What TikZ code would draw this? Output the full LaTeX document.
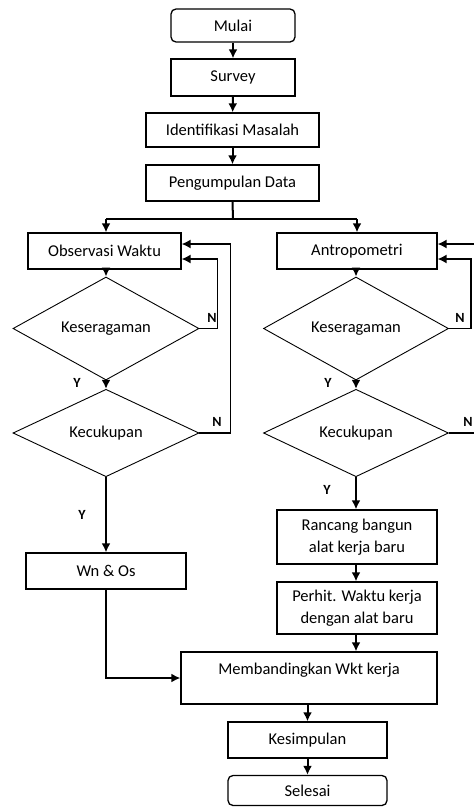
\documentclass[tikz,border=0pt]{standalone}
\usepackage{fontspec}
\setmainfont{Carlito}
\usetikzlibrary{shapes.geometric,arrows.meta}
\begin{document}
\begin{tikzpicture}[x=1pt,y=-1pt,
  box/.style={draw,line width=1.3pt,inner sep=0pt,font=\fontsize{16.5}{22}\selectfont,align=center},
  rbox/.style={box,rounded corners=5pt},
  dia/.style={draw,diamond,line width=0.9pt,inner sep=0pt,font=\fontsize{16.5}{20}\selectfont},
  arr/.style={line width=2pt,-{Latex[length=9pt,width=9pt]}},
  loop/.style={line width=1.4pt,-{Latex[length=9pt,width=9pt]}},
  lbl/.style={font=\bfseries\fontsize{14}{16}\selectfont,inner sep=0pt}]
\useasboundingbox (0,0) rectangle (474,809);
\node[rbox,minimum width=124pt,minimum height=33pt] (mulai) at (233,25.5) {Mulai};
\node[box,minimum width=124pt,minimum height=37pt] (survey) at (233,77.5) {Survey};
\node[box,minimum width=173pt,minimum height=34pt] (ident) at (232.5,130) {Identifikasi Masalah};
\node[box,minimum width=173pt,minimum height=36pt] (peng) at (232.5,183) {Pengumpulan Data};
\node[box,minimum width=153pt,minimum height=36pt] (obs) at (104.5,251) {Observasi Waktu};
\node[box,minimum width=160pt,minimum height=36pt] (antro) at (357,251) {Antropometri};
\node[dia,minimum width=186pt,minimum height=87pt] (kes1) at (106,328.5) {Keseragaman};
\node[dia,minimum width=186pt,minimum height=86pt] (kec1) at (106,433) {Kecukupan};
\node[dia,minimum width=185pt,minimum height=87pt] (kes2) at (356,328.5) {Keseragaman};
\node[dia,minimum width=185pt,minimum height=86pt] (kec2) at (356,433) {Kecukupan};
\node[box,minimum width=160pt,minimum height=36pt] (wn) at (106,571) {Wn \& Os};
\node[box,minimum width=160pt,minimum height=54pt] (ranc) at (357,537) {Rancang bangun\\alat kerja baru};
\node[box,minimum width=160pt,minimum height=52pt] (perh) at (357,608) {Perhit. Waktu kerja\\dengan alat baru};
\node[box,minimum width=256pt,minimum height=52pt] (mbd) at (309,678) {};
\node[font=\fontsize{16.5}{20}\selectfont,inner sep=0pt] (mbdt) at (309,670) {Membandingkan Wkt kerja};
\node[box,minimum width=159pt,minimum height=36pt] (kesim) at (307.5,740) {Kesimpulan};
\node[rbox,minimum width=159pt,minimum height=30pt] (sel) at (307.5,790.5) {Selesai};
\coordinate (br) at (233,219);
\coordinate (brl) at (106,219);
\coordinate (brr) at (357,219);
\draw[arr] (mulai) -- (survey);
\draw[arr] (survey) -- (ident);
\draw[arr] (ident) -- (peng);
\draw[line width=2pt] (peng.south) -- (br);
\draw[line width=2pt] (brl) -- (brr);
\draw[arr] (brl) -- (brl |- obs.north);
\draw[arr] (brr) -- (antro.north);
\draw[arr] (kes1.north |- obs.south) -- (kes1.north);
\draw[arr] (kes1.south) -- (kec1.north);
\draw[arr] (kec1.south) -- (wn.north);
\draw[arr] (antro.south -| kes2.north) -- (kes2.north);
\draw[arr] (kes2.south) -- (kec2.north);
\draw[arr] (kec2.south) -- (kec2.south |- ranc.north);
\draw[arr] (ranc.south -| kec2.south) -- (perh.north -| kec2.south);
\draw[arr] (perh.south -| kec2.south) -- (mbd.north -| kec2.south);
\draw[arr] (mbd.south -| kesim.north) -- (kesim.north);
\draw[arr] (kesim) -- (sel);
\draw[arr] (wn.south) |- (mbd.west);
\draw[loop] (kes1.east) -- ++(18,0) |- ([yshift=-8pt]obs.east);
\draw[loop] (kec1.east) -- ++(31,0) |- ([yshift=7pt]obs.east);
\draw[loop] (kes2.east) -- ++(22,0) |- ([yshift=-8pt]antro.east);
\draw[loop] (kec2.east) -- ++(26,0) |- ([yshift=7pt]antro.east);
\node[lbl] (n1) at (212,318) {N};
\node[lbl] (n2) at (217,422) {N};
\node[lbl] (n3) at (460,318) {N};
\node[lbl] (n4) at (468,422) {N};
\node[lbl] (y1) at (77,383) {Y};
\node[lbl] (y2) at (328,383) {Y};
\node[lbl] (y3) at (82,515) {Y};
\node[lbl] (y4) at (327,490) {Y};
\end{tikzpicture}
\end{document}
